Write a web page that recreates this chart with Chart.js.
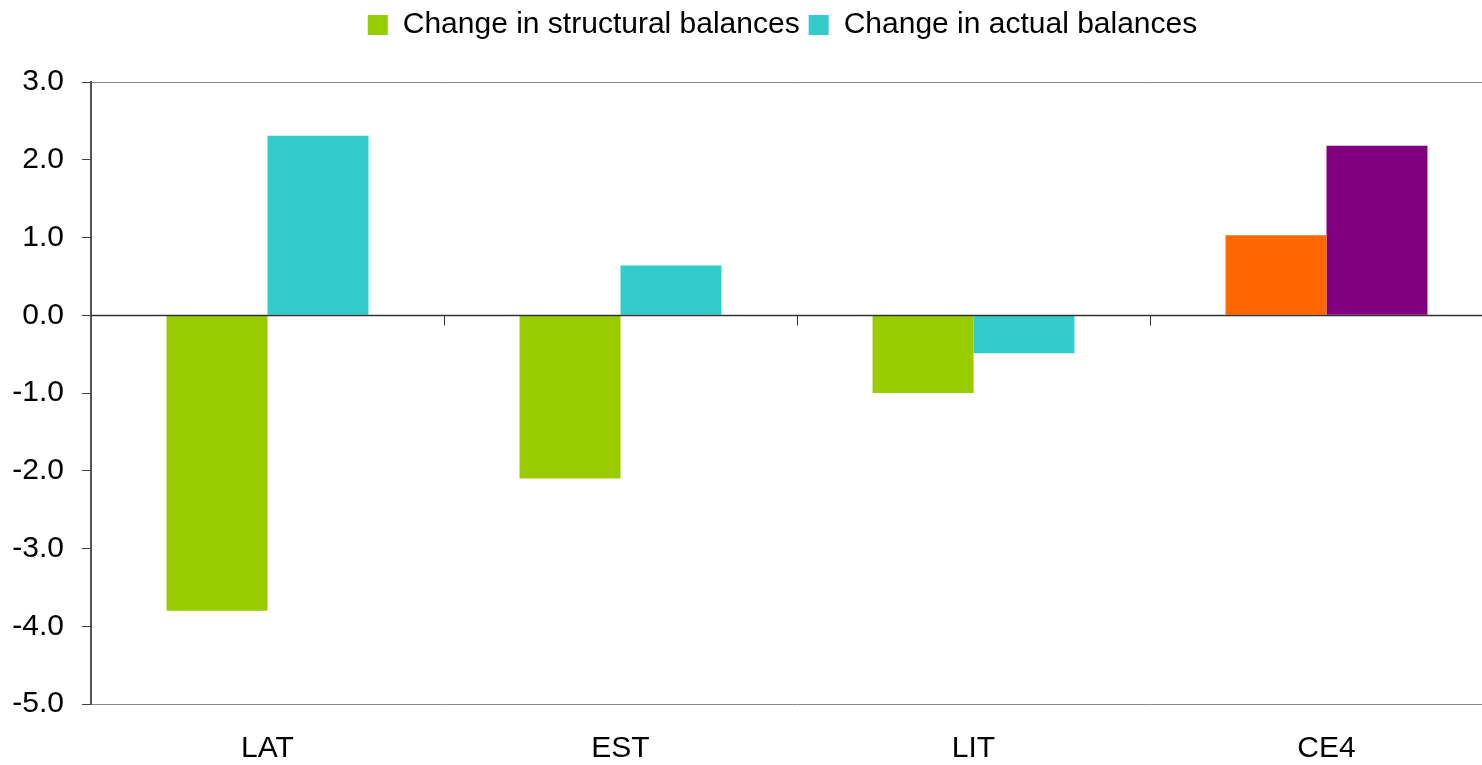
<!DOCTYPE html>
<html>
<head>
<meta charset="utf-8">
<script src="https://cdn.jsdelivr.net/npm/chart.js@4"></script>
<style>
  html, body { margin: 0; padding: 0; background: #fff; overflow: hidden; }
  #wrap { width: 1503px; height: 765px; }
</style>
</head>
<body>
<div id="wrap"><canvas id="balanceChart"></canvas></div>
<script>
// Data
const categories = ["LAT", "EST", "LIT", "CE4"];
const structuralChange = [-3.8, -2.1, -1.0, 1.03];
const actualChange = [2.31, 0.64, -0.49, 2.18];
const yTicks = { min: -5, max: 3, step: 1 };

const GREEN = "#99cc00";
const CYAN = "#33cccc";
const ORANGE = "#ff6600";
const PURPLE = "#800080";
const FONT = "'Liberation Sans', Arial, sans-serif";

// CE4 bars use their own colours
const pickColor = (base, special) => (ctx) =>
  ctx.dataIndex === categories.length - 1 ? special : base;

// Zero line with small category separator ticks, drawn over the bars
const zeroAxisPlugin = {
  id: "zeroAxis",
  afterDatasetsDraw(chart) {
    const { ctx, chartArea, scales } = chart;
    const y = Math.round(scales.y.getPixelForValue(0)) + 0.5;
    ctx.save();
    ctx.strokeStyle = "#333";
    ctx.lineWidth = 1.5;
    ctx.beginPath();
    ctx.moveTo(chartArea.left, y);
    ctx.lineTo(chartArea.right, y);
    ctx.stroke();

    ctx.lineWidth = 1;
    for (let i = 1; i < categories.length; i++) {
      const x =
        Math.round(
          (scales.x.getPixelForValue(i - 1) + scales.x.getPixelForValue(i)) / 2
        ) + 0.5;
      ctx.beginPath();
      ctx.moveTo(x, y);
      ctx.lineTo(x, y + 10);
      ctx.stroke();
    }
    ctx.restore();
  },
};

// Leave room under the legend and nudge it right like the original
const legendSpacer = {
  id: "legendSpacer",
  beforeInit(chart) {
    const fit = chart.legend.fit;
    chart.legend.fit = function () {
      fit.bind(chart.legend)();
      this.height += 33;
    };
  },
  afterLayout(chart) {
    chart.legend.left += 31;
    chart.legend.right += 31;
    chart.legend.top += 1;
  },
};

const ctx = document.getElementById("balanceChart");
new Chart(ctx, {
  type: "bar",
  data: {
    labels: categories,
    datasets: [
      {
        label: "Change in structural balances",
        data: structuralChange,
        backgroundColor: pickColor(GREEN, ORANGE),
      },
      {
        label: "Change in actual balances",
        data: actualChange,
        backgroundColor: pickColor(CYAN, PURPLE),
      },
    ],
  },
  options: {
    responsive: true,
    maintainAspectRatio: false,
    animation: false,
    categoryPercentage: 0.572,
    barPercentage: 1,
    layout: { padding: 0 },
    plugins: {
      legend: {
        position: "top",
        labels: {
          boxWidth: 20,
          boxHeight: 20,
          padding: 9,
          color: "#000",
          font: { family: FONT, size: 30 },
        },
      },
      tooltip: { enabled: false },
    },
    scales: {
      x: {
        grid: { display: false, drawTicks: false },
        border: { display: false },
        ticks: {
          color: "#000",
          padding: 27,
          font: { family: FONT, size: 30 },
        },
        afterFit(scale) {
          scale.height = 61;
        },
      },
      y: {
        min: yTicks.min,
        max: yTicks.max,
        ticks: {
          stepSize: yTicks.step,
          color: "#000",
          padding: 18,
          font: { family: FONT, size: 30 },
          callback: (v) => Number(v).toFixed(1),
        },
        grid: {
          tickLength: 9,
          tickColor: "#444",
          lineWidth: 1,
          color: (c) =>
            c.tick && (c.tick.value === yTicks.max || c.tick.value === yTicks.min)
              ? "#888"
              : "rgba(0,0,0,0)",
        },
        border: { display: true, color: "#555", width: 2 },
        afterFit(scale) {
          scale.width = 91;
        },
      },
    },
  },
  plugins: [zeroAxisPlugin, legendSpacer],
});
</script>
</body>
</html>
